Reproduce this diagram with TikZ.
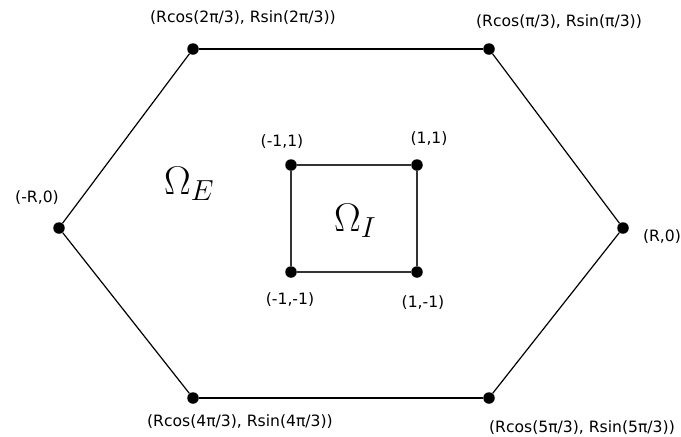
\documentclass[tikz,border=0pt]{standalone}
\usepackage{fix-cm}
\usepackage{fontspec}
\setmainfont{DejaVu Sans}
\DeclareMathSizes{40}{40}{29}{22}
\begin{document}
\begin{tikzpicture}[x=1pt,y=-1pt,
  dot/.style={circle,fill=black,inner sep=0pt,minimum size=11.5pt},
  lbl/.style={font=\fontsize{15.6}{18}\selectfont,anchor=base,inner sep=0pt},
  omega/.style={font=\fontsize{40}{48}\selectfont,anchor=base west,inner sep=0pt},
  hexedge/.style={line width=1.2pt,black},
  sqedge/.style={line width=1.4pt,black!80}]
\useasboundingbox (0,0) rectangle (681,437);
% hexagon vertices
\node[dot] (h0) at (623,228) {};
\node[dot] (h1) at (489,49) {};
\node[dot] (h2) at (193,49) {};
\node[dot] (h3) at (59,228) {};
\node[dot] (h4) at (193,398) {};
\node[dot] (h5) at (489,398) {};
% square vertices
\node[dot] (s1) at (417,165) {};
\node[dot] (s2) at (291,165) {};
\node[dot] (s3) at (291,272) {};
\node[dot] (s4) at (417,272) {};
% edges
\draw[hexedge] (h0) -- (h1);
\draw[hexedge] (h1) -- (h2);
\draw[hexedge] (h2) -- (h3);
\draw[hexedge] (h3) -- (h4);
\draw[hexedge] (h4) -- (h5);
\draw[hexedge] (h5) -- (h0);
\draw[sqedge] (s1) -- (s2);
\draw[sqedge] (s2) -- (s3);
\draw[sqedge] (s3) -- (s4);
\draw[sqedge] (s4) -- (s1);
% labels
\node[lbl] (l2) at (243,22) {(Rcos(2π/3), Rsin(2π/3))};
\node[lbl] (l1) at (559,26) {(Rcos(π/3), Rsin(π/3))};
\node[lbl] (l3) at (37,202) {(-R,0)};
\node[lbl] (l0) at (662,241) {(R,0)};
\node[lbl] (l4) at (240,426) {(Rcos(4π/3), Rsin(4π/3))};
\node[lbl] (l5) at (582,432) {(Rcos(5π/3), Rsin(5π/3))};
\node[lbl] (ls2) at (282,146) {(-1,1)};
\node[lbl] (ls1) at (429,143) {(1,1)};
\node[lbl] (ls3) at (290,304) {(-1,-1)};
\node[lbl] (ls4) at (423,307) {(1,-1)};
% region labels
\node[omega] (oe) at (164,194) {$\Omega_E$};
\node[omega] (oi) at (334,231) {$\Omega_I$};
\end{tikzpicture}
\end{document}
